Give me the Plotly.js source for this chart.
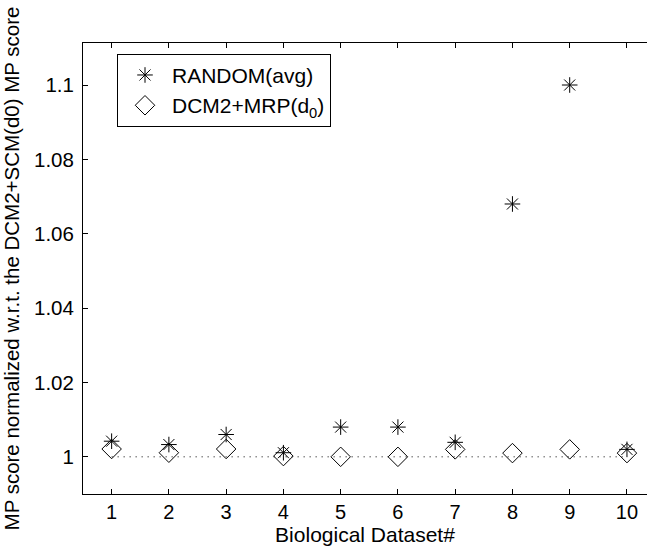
<!DOCTYPE html>
<html>
<head>
<meta charset="utf-8">
<script src="https://cdn.plot.ly/plotly-3.0.1.min.js"></script>
<style>html,body{margin:0;padding:0;overflow:hidden;background:#fff;}</style>
</head>
<body>
<div id="chart" style="width:647px;height:546px;"></div>
<script>
const datasets = [1, 2, 3, 4, 5, 6, 7, 8, 9, 10];
const randomAvg = [1.0042, 1.0033, 1.006, 1.0011, 1.008, 1.008, 1.0039, 1.068, 1.1, 1.002];
const dcmMrp = [1.0021, 1.0011, 1.0021, 1.0002, 1.0, 1.0, 1.002, 1.001, 1.002, 1.001];
const baseline = [1, 1, 1, 1, 1, 1, 1, 1, 1, 1];
const yTickVals = [1, 1.02, 1.04, 1.06, 1.08, 1.1];
const yTickText = ['1', '1.02', '1.04', '1.06', '1.08', '1.1'];

const font = 'Liberation Sans, Arial, Helvetica, sans-serif';

const traces = [
  {
    x: datasets, y: baseline, mode: 'lines', showlegend: false, hoverinfo: 'skip',
    line: {color: '#000', width: 1, dash: '1px,5px'}
  },
  {
    x: datasets, y: dcmMrp, mode: 'markers', name: 'DCM2+MRP(d<sub>0</sub>)',
    marker: {symbol: 'diamond-open', size: 15, color: '#000', line: {color: '#000', width: 1}}
  },
  {
    x: datasets, y: randomAvg, mode: 'markers', name: 'RANDOM(avg)',
    marker: {symbol: 'asterisk-open', size: 13, color: '#000', line: {color: '#000', width: 1}}
  }
];

const layout = {
  width: 647, height: 546,
  margin: {l: 83, r: 0, t: 43, b: 52},
  paper_bgcolor: '#fff', plot_bgcolor: '#fff',
  font: {family: font, size: 20, color: '#000'},
  showlegend: true,
  legend: {
    x: 0.0603, y: 0.976, xanchor: 'left', yanchor: 'top',
    bgcolor: '#fff', bordercolor: '#000', borderwidth: 1,
    traceorder: 'reversed', itemwidth: 44,
    font: {family: font, size: 21, color: '#000'}
  },
  xaxis: {
    range: [0.5, 10.35], tickvals: datasets, ticks: 'inside', ticklen: 5,
    tickcolor: '#000', showline: true, linecolor: '#000', linewidth: 1,
    mirror: 'ticks', showgrid: false, zeroline: false,
    tickfont: {family: font, size: 20, color: '#000'},
    title: {text: 'Biological Dataset#', font: {family: font, size: 21, color: '#000'}, standoff: 3}
  },
  yaxis: {
    range: [0.99, 1.1113], tickvals: yTickVals, ticktext: yTickText, ticks: 'inside', ticklen: 5,
    tickcolor: '#000', showline: true, linecolor: '#000', linewidth: 1,
    mirror: false, showgrid: false, zeroline: false, ticklabelstandoff: 4,
    tickfont: {family: font, size: 20.5, color: '#000'},
    title: {text: 'MP score normalized w.r.t. the DCM2+SCM(d0) MP score', font: {family: font, size: 20.5, color: '#000'}, standoff: 10}
  }
};

Plotly.newPlot('chart', traces, layout, {displayModeBar: false, staticPlot: true});
</script>
</body>
</html>
